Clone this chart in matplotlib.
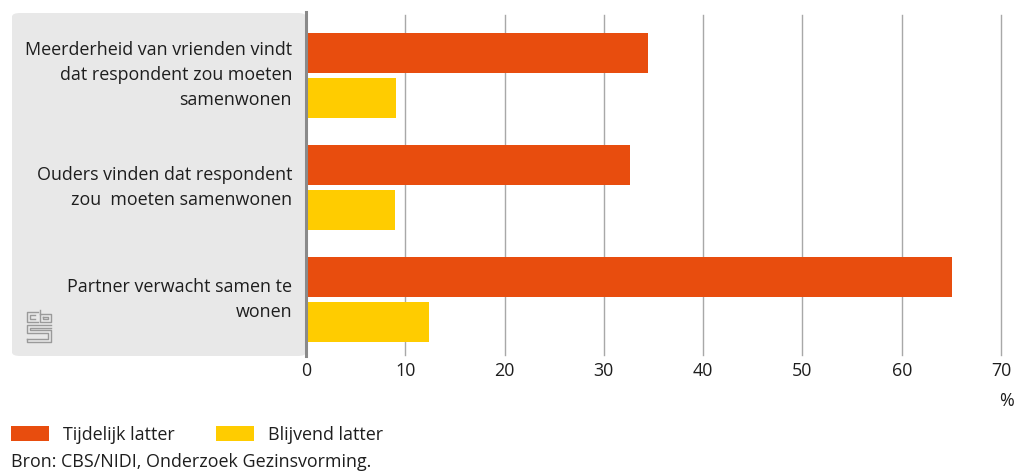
import matplotlib
matplotlib.use("Agg")
import matplotlib.pyplot as plt
from matplotlib.patches import FancyBboxPatch, Rectangle
from matplotlib.lines import Line2D

categories = [
    "Meerderheid van vrienden vindt\ndat respondent zou moeten\nsamenwonen",
    "Ouders vinden dat respondent\nzou  moeten samenwonen",
    "Partner verwacht samen te\nwonen",
]
tijdelijk = [34.4, 32.6, 65.1]
blijvend = [9.1, 9.0, 12.4]
series_names = ["Tijdelijk latter", "Blijvend latter"]
xticks = [0, 10, 20, 30, 40, 50, 60, 70]
source = "Bron: CBS/NIDI, Onderzoek Gezinsvorming."

ORANGE = "#E84D0E"
YELLOW = "#FFCC00"
FONT = "Open Sans"
FS = 12.9
TXT = "#1e1e1e"
W, H = 1027, 472

plt.rcParams["font.family"] = [FONT, "DejaVu Sans"]
fig = plt.figure(figsize=(W / 100, H / 100), dpi=100)

def fx(px):
    return px / W

def fy(py):
    return 1 - py / H

# grey panel behind labels
panel = FancyBboxPatch((fx(12), fy(356)), fx(306) - fx(12), fy(13) - fy(356),
                       boxstyle="round,pad=0,rounding_size=0.008",
                       transform=fig.transFigure, facecolor="#e8e8e8",
                       edgecolor="none", zorder=-5)
fig.patches.append(panel)

ax_left, ax_right = 306, 1001
ax_top, ax_bot = 15, 355
ax = fig.add_axes([fx(ax_left), fy(ax_bot), fx(ax_right) - fx(ax_left), fy(ax_top) - fy(ax_bot)])
ax.set_facecolor("none")
ax.set_zorder(1)

ypos = list(range(len(categories)))
bh = 0.357
off = 0.2
ax.barh([y - off for y in ypos], tijdelijk, height=bh, color=ORANGE, zorder=3)
ax.barh([y + off for y in ypos], blijvend, height=bh, color=YELLOW, zorder=3)

ax.set_xlim(0, 70)
ax.set_ylim(2.4955, -0.54)
ax.set_xticks(xticks)
ax.set_xticklabels([str(t) for t in xticks], fontsize=FS, color=TXT)
ax.tick_params(axis="x", length=0, pad=5)
ax.set_yticks([])
for s in ax.spines.values():
    s.set_visible(False)
for t in xticks[1:]:
    ax.axvline(t, color="#a8a8a8", linewidth=1.0, zorder=1, clip_on=False)

# main vertical axis line
fig.add_artist(Line2D([fx(306), fx(306)], [fy(12), fy(356)], transform=fig.transFigure,
                      color="#8a8a8a", linewidth=2.2, zorder=5))

# category labels
for y, lab in zip(ypos, categories):
    ax.text(-1.4, y, lab, ha="right", va="center", fontsize=FS, color=TXT,
            linespacing=1.5, transform=ax.transData, clip_on=False)

# % label
fig.text(fx(1007), fy(401), "%", ha="center", va="center", fontsize=FS, color=TXT)

# cbs logo (simplified)
lc = "#9a9a9a"
def ln(xs, ys):
    fig.add_artist(Line2D([fx(x) for x in xs], [fy(y) for y in ys],
                          transform=fig.transFigure, color=lc, linewidth=1.0))
# c
ln([38, 27, 27, 38], [312, 312, 322, 322])
ln([35, 30, 30, 35], [315, 315, 319, 319])
# b
ln([40, 40, 51, 51, 40], [310, 322, 322, 314, 314])
ln([43, 43, 48, 48, 43], [317, 319, 319, 317, 317])
# s
ln([51, 27, 27, 48, 48, 27], [325, 325, 333, 333, 339, 339])
ln([51, 30, 30, 51, 51, 27, 27], [328, 328, 330, 330, 342, 342, 339])

# legend
fig.patches.append(Rectangle((fx(11), fy(441)), fx(49) - fx(11), fy(426) - fy(441),
                             transform=fig.transFigure, facecolor=ORANGE, edgecolor="none"))
fig.text(fx(63), fy(435), series_names[0], ha="left", va="center", fontsize=FS, color=TXT)
fig.patches.append(Rectangle((fx(216), fy(441)), fx(254) - fx(216), fy(426) - fy(441),
                             transform=fig.transFigure, facecolor=YELLOW, edgecolor="none"))
fig.text(fx(268), fy(435), series_names[1], ha="left", va="center", fontsize=FS, color=TXT)

fig.text(fx(11), fy(462), source, ha="left", va="center", fontsize=FS, color=TXT)

fig.savefig("out.png", dpi=100)
